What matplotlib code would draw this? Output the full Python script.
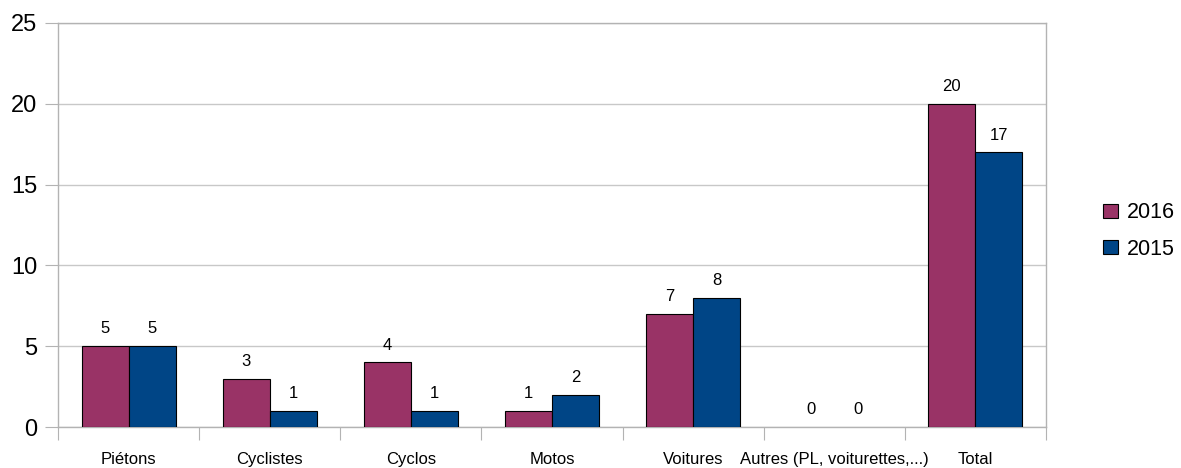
import matplotlib
matplotlib.use("Agg")
import matplotlib.pyplot as plt
import numpy as np

plt.rcParams['font.family'] = ['Liberation Sans', 'DejaVu Sans']

categories = ["Piétons", "Cyclistes", "Cyclos", "Motos", "Voitures",
              "Autres (PL, voiturettes,...)", "Total"]
series_names = ["2016", "2015"]
values_2016 = [5, 3, 4, 1, 7, 0, 20]
values_2015 = [5, 1, 1, 2, 8, 0, 17]
y_ticks = [0, 5, 10, 15, 20, 25]

colors = ["#993366", "#004586"]

fig = plt.figure(figsize=(11.81, 4.68), dpi=100)
ax = fig.add_axes([58 / 1181, 41 / 468, (1046 - 58) / 1181, (427 - 23) / 468])

x = np.arange(len(categories))
width = 1 / 3
bars = []
for i, (vals, name) in enumerate(zip([values_2016, values_2015], series_names)):
    b = ax.bar(x + (i - 0.5) * width, vals, width, color=colors[i],
               edgecolor="black", linewidth=0.8, label=name, zorder=3)
    bars.append(b)
    for rect, v in zip(b, vals):
        if v == 0:
            # an empty bar leaves only its label, no outline on the axis
            rect.set_linewidth(0)
        ax.annotate(str(v), (rect.get_x() + rect.get_width() / 2, v),
                    xytext=(0, 7), textcoords="offset points",
                    ha="center", va="bottom", fontsize=12, zorder=4)

ax.set_xlim(-0.5, len(categories) - 0.5)
ax.set_ylim(0, 25)
ax.set_yticks(y_ticks)
ax.tick_params(axis="y", labelsize=17, length=9.4, width=0.8, color="#b3b3b3", pad=5.5)

# category boundaries carry the x tick marks, labels sit at the centres
ax.set_xticks(np.arange(len(categories) + 1) - 0.5)
ax.set_xticklabels([])
ax.tick_params(axis="x", which="major", length=9.4, width=0.8, color="#b3b3b3")
ax.set_xticks(x, minor=True)
ax.set_xticklabels(categories, minor=True, fontsize=12)
ax.tick_params(axis="x", which="minor", length=0, pad=18)

ax.yaxis.grid(True, color="#c8c8c8", linewidth=1.0, zorder=0)
ax.set_axisbelow(True)
for side in ["left", "right", "top", "bottom"]:
    ax.spines[side].set_color("#b3b3b3")
    ax.spines[side].set_linewidth(1.0)

leg = fig.legend(handles=bars, labels=series_names, loc="center left",
                 bbox_to_anchor=(1103 / 1181, 1 - 231 / 468), frameon=False,
                 fontsize=15.5, handlelength=0.68, handleheight=0.68,
                 handletextpad=0.42, labelspacing=0.7, borderpad=0,
                 borderaxespad=0)

fig.savefig("out.png", dpi=100)
